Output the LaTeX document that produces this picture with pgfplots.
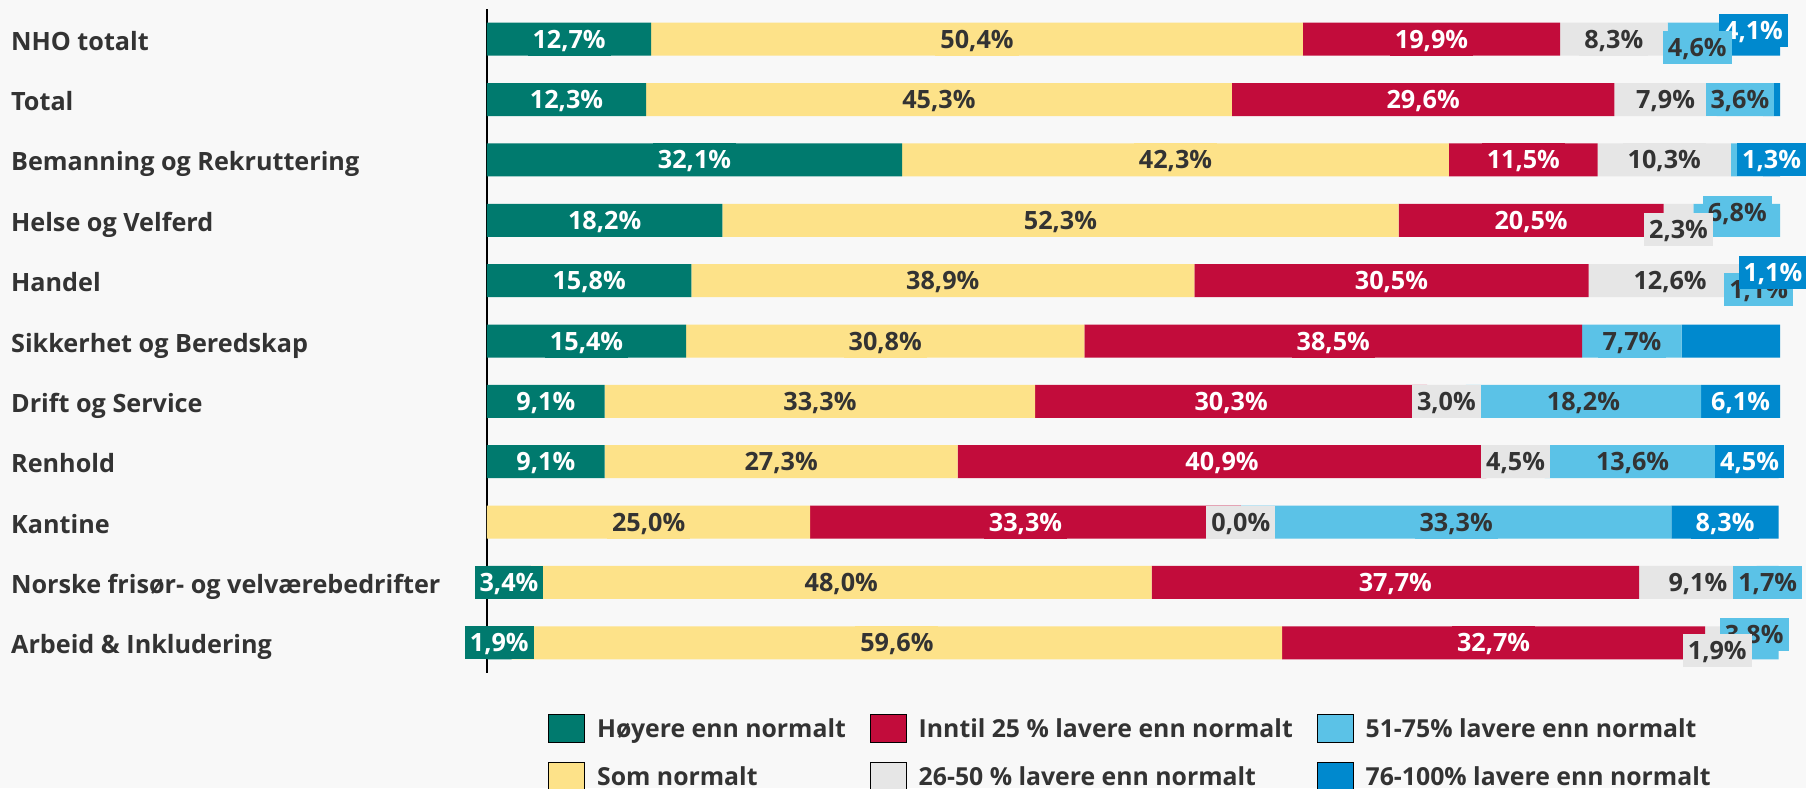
\documentclass[border=0pt]{standalone}
\usepackage{pgfplots}
\pgfplotsset{compat=1.18}
\usepackage{pgfplotstable}
\usepackage{fontspec}
\setmainfont{Open Sans}
\definecolor{cA}{HTML}{007A6E}
\definecolor{cB}{HTML}{FDE289}
\definecolor{cC}{HTML}{C20C3B}
\definecolor{cD}{HTML}{E6E6E6}
\definecolor{cE}{HTML}{5BC2E7}
\definecolor{cF}{HTML}{0089CE}
\definecolor{txt}{HTML}{333333}
\definecolor{bg}{HTML}{F8F8F8}

% s*: 1 = label shown, 0 = hidden; tf: 1 = 76-100 label drawn on top
\pgfplotstableread{
idx a    b    c    d    e    f   sa sb sc sd se sf tf od  oe   of
0   12.7 50.4 19.9 8.3  4.6  4.1 1  1  1  1  1  1  0  0   8    -9
1   12.3 45.3 29.6 7.9  3.6  1.3 1  1  1  1  1  0  0  0   0    0
2   32.1 42.3 11.5 10.3 2.5  1.3 1  1  1  1  0  1  0  0   0    0
3   18.2 52.3 20.5 2.3  6.8  0   1  1  1  1  1  0  0  9.5 -7.5 0
4   15.8 38.9 30.5 12.6 1.1  1.1 1  1  1  1  1  0  1  0   9    -8
5   15.4 30.8 38.5 0    7.7  7.7 1  1  1  0  1  0  0  0   0    0
6   9.1  33.3 30.3 3.0  18.2 6.1 1  1  1  1  1  1  0  0   0    0
7   9.1  27.3 40.9 4.5  13.6 4.5 1  1  1  1  1  1  0  0   0    0
8   0    25.0 33.3 0    33.3 8.3 0  1  1  1  1  1  0  0   0    0
9   3.4  48.0 37.7 9.1  1.7  0   1  1  1  1  1  0  0  0   0    0
10  1.9  59.6 32.7 1.9  3.8  0   1  1  1  1  1  0  0  8   -8.5 0
}\data

\newcommand{\lblfont}{\bfseries\fontsize{12.6}{15}\selectfont}
\newcommand{\legfont}{\bfseries\fontsize{12.4}{15}\selectfont}

\pgfplotsset{
  base/.style={scale only axis, width=646.5pt, height=332pt,
    xmin=0, xmax=100, ymin=-0.5, ymax=10.5, enlargelimits=false,
    y dir=reverse, at={(0,0)}, anchor=south west},
  lab/.style={draw=none, no markers, forget plot, point meta=explicit,
    nodes near coords={\pgfmathprintnumber[fixed,fixed zerofill,precision=1,use comma,assume math mode=true]{\pgfplotspointmeta}\%},
    nodes near coords style={anchor=center, font=\lblfont, inner xsep=2.5pt,
      inner ysep=0pt, minimum height=16.5pt, text height=9pt, text depth=0pt}},
}

\begin{document}
\begin{tikzpicture}
\fill[bg] (-243.5pt,-57.5pt) rectangle (659.5pt,336.5pt);
\begin{axis}[base, xbar stacked, bar width=16.5pt,
  axis x line=none, axis y line=left,
  y axis line style={-, line width=1pt, black},
  xtick=\empty, ytick={0,...,10},
  yticklabels={NHO totalt, Total, Bemanning og Rekruttering, Helse og Velferd, Handel,
    Sikkerhet og Beredskap, Drift og Service, Renhold, Kantine,
    Norske frisør- og velværebedrifter, Arbeid \& Inkludering},
  ytick style={draw=none},
  yticklabel style={anchor=west, xshift=-236pt, yshift=-1pt, inner sep=0pt, font=\lblfont,
    text=txt, text height=9pt, text depth=0pt},
]
\addplot[fill=cA, draw=none] table[x=a, y=idx]{\data};
\addplot[fill=cB, draw=none] table[x=b, y=idx]{\data};
\addplot[fill=cC, draw=none] table[x=c, y=idx]{\data};
\addplot[fill=cD, draw=none] table[x=d, y=idx]{\data};
\addplot[fill=cE, draw=none] table[x=e, y=idx]{\data};
\addplot[fill=cF, draw=none] table[x=f, y=idx]{\data};
\end{axis}
\begin{axis}[base, hide axis, clip=false, restrict x to domain=-20:120,
  legend columns=3, legend cell align=left,
  legend style={at={(0,0)}, anchor=north west, xshift=30.5pt, yshift=-20.5pt,
    draw=none, fill=none, inner sep=0pt, font=\legfont, text=txt, row sep=9.5pt,
    nodes={inner sep=0pt, text height=9pt, text depth=0pt},
    /tikz/every odd column/.append style={column sep=6pt},
    /tikz/every even column/.append style={column sep=12pt}},
  legend image code/.code={\fill[#1] (0pt,-7pt) rectangle (18pt,7pt);},
]
\addplot[lab, nodes near coords style={fill=cF, text=white}] table[
  x expr=\thisrow{a}+\thisrow{b}+\thisrow{c}+\thisrow{d}+\thisrow{e}+0.5*\thisrow{f}+(1-\thisrow{sf})*1000,
  y expr=\thisrow{idx}+\thisrow{of}/60.35, meta=f]{\data};
\addplot[lab, nodes near coords style={fill=cE, text=txt}] table[
  x expr=\thisrow{a}+\thisrow{b}+\thisrow{c}+\thisrow{d}+0.5*\thisrow{e}+(1-\thisrow{se})*1000,
  y expr=\thisrow{idx}+\thisrow{oe}/60.35, meta=e]{\data};
\addplot[lab, nodes near coords style={fill=cF, text=white}] table[
  x expr=\thisrow{a}+\thisrow{b}+\thisrow{c}+\thisrow{d}+\thisrow{e}+0.5*\thisrow{f}+(1-\thisrow{tf})*1000,
  y expr=\thisrow{idx}+\thisrow{of}/60.35, meta=f]{\data};
\addplot[lab, nodes near coords style={fill=cD, text=txt}] table[
  x expr=\thisrow{a}+\thisrow{b}+\thisrow{c}+0.5*\thisrow{d}+(1-\thisrow{sd})*1000,
  y expr=\thisrow{idx}+\thisrow{od}/60.35, meta=d]{\data};
\addplot[lab, nodes near coords style={fill=cC, text=white}] table[
  x expr=\thisrow{a}+\thisrow{b}+0.5*\thisrow{c}+(1-\thisrow{sc})*1000,
  y expr=\thisrow{idx}, meta=c]{\data};
\addplot[lab, nodes near coords style={fill=cB, text=txt}] table[
  x expr=\thisrow{a}+0.5*\thisrow{b}+(1-\thisrow{sb})*1000,
  y expr=\thisrow{idx}, meta=b]{\data};
\addplot[lab, nodes near coords style={fill=cA, text=white}] table[
  x expr=0.5*\thisrow{a}+(1-\thisrow{sa})*1000,
  y expr=\thisrow{idx}, meta=a]{\data};
\addlegendimage{fill=cA}\addlegendentry{Høyere enn normalt}
\addlegendimage{fill=cC}\addlegendentry{Inntil 25 \% lavere enn normalt}
\addlegendimage{fill=cE}\addlegendentry{51-75\% lavere enn normalt}
\addlegendimage{fill=cB}\addlegendentry{Som normalt}
\addlegendimage{fill=cD}\addlegendentry{26-50 \% lavere enn normalt}
\addlegendimage{fill=cF}\addlegendentry{76-100\% lavere enn normalt}
\end{axis}
\pgfresetboundingbox
\useasboundingbox (-243.5pt,-57.5pt) rectangle (659.5pt,336.5pt);
\end{tikzpicture}
\end{document}
